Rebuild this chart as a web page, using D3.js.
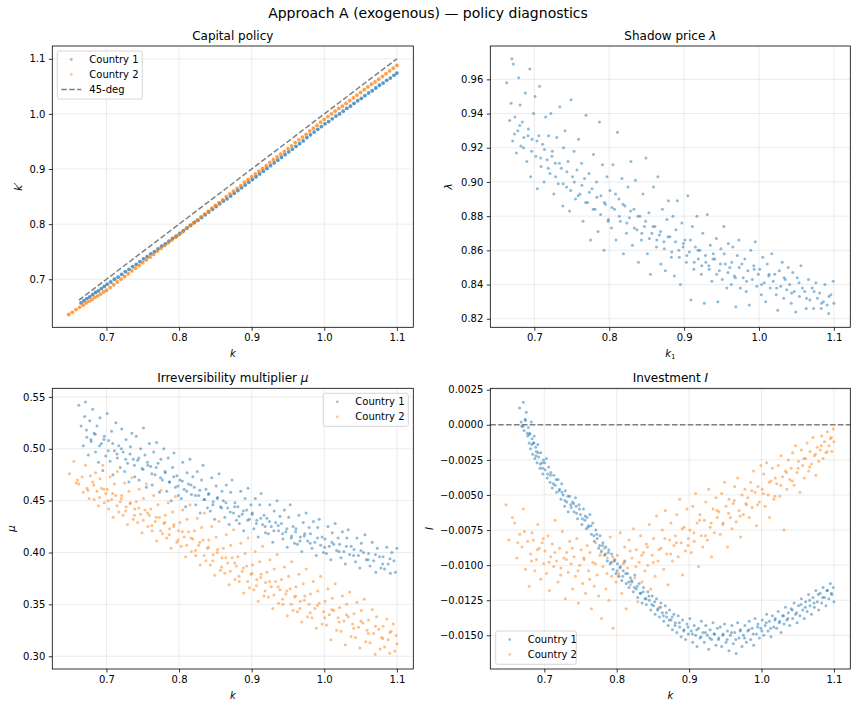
<!DOCTYPE html>
<html>
<head>
<meta charset="utf-8">
<script src="https://cdn.jsdelivr.net/npm/d3@7"></script>
<style>
  body { margin: 0; background: #fff; }
  svg { font-family: "DejaVu Sans", sans-serif; }
</style>
</head>
<body>
<div id="chart"></div>
<script>
// ---- data: [k, value] ----
const capital1 = [[0.665,0.657],[0.669,0.661],[0.673,0.665],[0.677,0.668],[0.681,0.672],[0.685,0.676],[0.689,0.679],[0.693,0.683],[0.697,0.687],[0.701,0.691],[0.706,0.695],[0.711,0.700],[0.716,0.704],[0.721,0.709],[0.726,0.714],[0.731,0.718],[0.736,0.723],[0.741,0.727],[0.746,0.732],[0.751,0.737],[0.756,0.741],[0.761,0.746],[0.766,0.750],[0.771,0.755],[0.776,0.760],[0.781,0.764],[0.786,0.769],[0.791,0.774],[0.796,0.778],[0.801,0.783],[0.806,0.788],[0.811,0.793],[0.816,0.798],[0.821,0.803],[0.826,0.807],[0.831,0.812],[0.836,0.817],[0.841,0.822],[0.846,0.827],[0.851,0.832],[0.856,0.837],[0.861,0.842],[0.866,0.846],[0.871,0.851],[0.876,0.856],[0.881,0.861],[0.886,0.866],[0.891,0.871],[0.896,0.876],[0.901,0.881],[0.906,0.886],[0.911,0.891],[0.916,0.896],[0.921,0.901],[0.926,0.906],[0.931,0.911],[0.936,0.916],[0.941,0.921],[0.946,0.926],[0.951,0.931],[0.956,0.936],[0.961,0.941],[0.966,0.946],[0.971,0.951],[0.976,0.957],[0.981,0.962],[0.986,0.967],[0.991,0.972],[0.996,0.977],[1.001,0.982],[1.006,0.986],[1.011,0.991],[1.016,0.996],[1.021,1.000],[1.026,1.005],[1.031,1.010],[1.036,1.014],[1.041,1.019],[1.046,1.024],[1.051,1.028],[1.056,1.033],[1.061,1.038],[1.066,1.042],[1.071,1.047],[1.076,1.052],[1.081,1.056],[1.086,1.061],[1.091,1.065],[1.096,1.070],[1.100,1.074]];

const capital2 = [[0.648,0.636],[0.653,0.640],[0.658,0.645],[0.663,0.649],[0.668,0.653],[0.672,0.657],[0.676,0.660],[0.680,0.663],[0.684,0.667],[0.688,0.670],[0.692,0.673],[0.696,0.677],[0.700,0.680],[0.705,0.685],[0.710,0.690],[0.715,0.695],[0.720,0.700],[0.725,0.705],[0.730,0.710],[0.735,0.715],[0.740,0.720],[0.745,0.725],[0.750,0.730],[0.755,0.735],[0.760,0.740],[0.765,0.745],[0.770,0.751],[0.775,0.756],[0.780,0.761],[0.785,0.766],[0.790,0.771],[0.795,0.776],[0.800,0.781],[0.805,0.786],[0.810,0.792],[0.815,0.797],[0.820,0.802],[0.825,0.807],[0.830,0.813],[0.835,0.818],[0.840,0.823],[0.845,0.829],[0.850,0.834],[0.855,0.839],[0.860,0.844],[0.865,0.850],[0.870,0.855],[0.875,0.860],[0.880,0.865],[0.885,0.870],[0.890,0.876],[0.895,0.881],[0.900,0.886],[0.905,0.891],[0.910,0.896],[0.915,0.901],[0.920,0.906],[0.925,0.912],[0.930,0.917],[0.935,0.922],[0.940,0.927],[0.945,0.932],[0.950,0.937],[0.955,0.942],[0.960,0.948],[0.965,0.953],[0.970,0.958],[0.975,0.963],[0.980,0.969],[0.985,0.974],[0.990,0.979],[0.995,0.985],[1.000,0.990],[1.005,0.995],[1.010,1.000],[1.015,1.005],[1.020,1.010],[1.025,1.014],[1.030,1.019],[1.035,1.024],[1.040,1.029],[1.045,1.034],[1.050,1.039],[1.055,1.044],[1.060,1.049],[1.065,1.054],[1.070,1.058],[1.075,1.063],[1.080,1.068],[1.085,1.073],[1.090,1.078],[1.095,1.083],[1.100,1.088]];

const diag45 = [0.662, 1.100];

const lambda1 = [[0.663,0.958],[0.667,0.936],[0.669,0.946],[0.670,0.972],[0.671,0.924],[0.672,0.969],[0.674,0.938],[0.676,0.917],[0.678,0.930],[0.679,0.961],
[0.681,0.945],[0.682,0.921],[0.684,0.935],[0.686,0.926],[0.688,0.952],[0.690,0.912],[0.692,0.931],[0.694,0.966],[0.695,0.903],[0.697,0.925],[0.699,0.940],
[0.701,0.950],[0.702,0.915],[0.704,0.896],[0.706,0.927],[0.707,0.956],[0.709,0.909],[0.711,0.922],[0.713,0.900],[0.715,0.938],[0.717,0.913],[0.719,0.927],
[0.721,0.905],[0.722,0.940],[0.724,0.918],[0.726,0.893],[0.728,0.911],[0.730,0.926],[0.732,0.899],[0.734,0.944],[0.736,0.908],[0.738,0.886],[0.739,0.920],
[0.741,0.930],[0.743,0.897],[0.745,0.912],[0.747,0.883],[0.749,0.948],[0.751,0.903],[0.753,0.918],[0.755,0.890],[0.757,0.907],[0.759,0.925],
[0.761,0.893],[0.763,0.911],[0.765,0.877],[0.767,0.902],[0.769,0.939],[0.771,0.888],[0.773,0.905],[0.775,0.866],[0.777,0.896],[0.779,0.916],
[0.781,0.884],[0.783,0.900],[0.785,0.871],[0.787,0.935],[0.789,0.892],[0.791,0.910],[0.793,0.860],[0.795,0.887],[0.797,0.903],[0.799,0.878],
[0.801,0.895],[0.803,0.873],[0.805,0.910],[0.807,0.884],[0.809,0.866],[0.811,0.929],[0.813,0.890],[0.815,0.877],[0.817,0.902],[0.819,0.858],
[0.821,0.886],[0.823,0.870],[0.825,0.897],[0.827,0.879],[0.829,0.912],[0.831,0.863],[0.833,0.884],[0.835,0.901],[0.837,0.872],[0.839,0.853],
[0.841,0.880],[0.843,0.866],[0.845,0.893],[0.847,0.874],[0.849,0.914],[0.851,0.858],[0.853,0.882],[0.855,0.846],[0.857,0.870],[0.859,0.897],
[0.861,0.874],[0.863,0.862],[0.865,0.903],[0.867,0.869],[0.869,0.852],[0.871,0.884],[0.873,0.865],[0.875,0.848],[0.877,0.878],[0.879,0.889],
[0.881,0.868],[0.883,0.856],[0.885,0.880],[0.887,0.845],[0.889,0.872],[0.891,0.889],[0.893,0.860],[0.895,0.840],[0.897,0.876],[0.899,0.864],
[0.901,0.866],[0.903,0.853],[0.905,0.892],[0.907,0.859],[0.909,0.831],[0.911,0.874],[0.913,0.849],[0.915,0.862],[0.917,0.880],[0.919,0.855],
[0.921,0.860],[0.923,0.846],[0.925,0.870],[0.927,0.829],[0.929,0.853],[0.931,0.881],[0.933,0.851],[0.935,0.863],[0.937,0.842],[0.939,0.858],
[0.941,0.855],[0.943,0.867],[0.945,0.830],[0.947,0.848],[0.949,0.861],[0.951,0.843],[0.953,0.874],[0.955,0.852],[0.957,0.838],[0.959,0.864],
[0.961,0.850],[0.963,0.840],[0.965,0.862],[0.967,0.845],[0.969,0.827],[0.971,0.857],[0.973,0.866],[0.975,0.838],[0.977,0.852],[0.979,0.844],
[0.981,0.855],[0.983,0.836],[0.985,0.848],[0.987,0.828],[0.989,0.860],[0.991,0.843],[0.993,0.851],[0.995,0.865],[0.997,0.839],[0.999,0.846],
[1.001,0.849],[1.003,0.834],[1.005,0.856],[1.007,0.841],[1.009,0.830],[1.011,0.852],[1.013,0.845],[1.015,0.838],[1.017,0.858],[1.019,0.842],
[1.021,0.846],[1.023,0.834],[1.025,0.825],[1.027,0.848],[1.029,0.839],[1.031,0.853],[1.033,0.832],[1.035,0.843],[1.037,0.837],[1.039,0.850],
[1.041,0.840],[1.043,0.829],[1.045,0.847],[1.047,0.836],[1.049,0.824],[1.051,0.844],[1.054,0.833],[1.056,0.851],[1.058,0.838],
[1.061,0.836],[1.063,0.826],[1.066,0.843],[1.068,0.831],[1.071,0.838],[1.073,0.826],[1.076,0.841],[1.078,0.832],
[1.081,0.835],[1.083,0.826],[1.086,0.830],[1.088,0.840],[1.091,0.828],[1.093,0.823],[1.096,0.834],[1.099,0.842],[1.100,0.829],
[0.6735,0.928],[0.6805,0.933],[0.6855,0.920],[0.6915,0.927],[0.6965,0.918],[0.7035,0.924],[0.7085,0.914],[0.7135,0.919],[0.7185,0.908],[0.7235,0.915],[0.7285,0.903],[0.7335,0.911],[0.7385,0.899],[0.7435,0.906],[0.7485,0.895],[0.7535,0.900],[0.7585,0.892],[0.7635,0.898],[0.7685,0.888],[0.7735,0.894],[0.7785,0.884],[0.7835,0.891],[0.7885,0.881],[0.7935,0.888],[0.7985,0.877],[0.8035,0.885],[0.8085,0.893],[0.8135,0.880],[0.8185,0.887],[0.8235,0.876],[0.8285,0.883],[0.8335,0.873],[0.8385,0.880],[0.8435,0.870],[0.8485,0.877],[0.8535,0.867],[0.8585,0.874],[0.8635,0.866],[0.8685,0.871],[0.8735,0.861],[0.8785,0.868],[0.8835,0.859],[0.8885,0.865],[0.8935,0.856],[0.8985,0.862],[0.9035,0.857],[0.9085,0.866],[0.9135,0.853],[0.9185,0.860],[0.9235,0.851],[0.9285,0.857],[0.9335,0.849],[0.9385,0.855],[0.9435,0.846],[0.9485,0.852],[0.9535,0.858],[0.9585,0.847],[0.9635,0.853],[0.9685,0.844],[0.9735,0.850],[0.9835,0.842],[0.9935,0.849],[1.0035,0.840],[1.0135,0.846],[1.0235,0.838],[1.0335,0.844],[1.0435,0.835],[1.0535,0.841],[1.0635,0.832],[1.0735,0.836],[1.0835,0.829],[1.0935,0.833]];

const mu1 = [[0.662,0.542],[0.665,0.522],[0.668,0.503],[0.670,0.531],[0.671,0.545],[0.673,0.511],[0.675,0.494],[0.677,0.527],[0.679,0.507],
[0.681,0.538],[0.683,0.515],[0.685,0.497],[0.687,0.522],[0.689,0.487],[0.691,0.530],[0.693,0.505],[0.695,0.479],[0.697,0.512],[0.699,0.493],
[0.701,0.534],[0.703,0.508],[0.705,0.488],[0.707,0.517],[0.709,0.475],[0.711,0.498],[0.713,0.525],[0.715,0.491],[0.717,0.503],[0.719,0.482],
[0.721,0.519],[0.723,0.497],[0.725,0.478],[0.727,0.509],[0.729,0.486],[0.731,0.468],[0.733,0.502],[0.735,0.515],[0.737,0.490],[0.739,0.473],
[0.741,0.512],[0.743,0.489],[0.745,0.470],[0.747,0.500],[0.749,0.481],[0.751,0.520],[0.753,0.494],[0.755,0.463],[0.757,0.484],[0.759,0.505],
[0.761,0.483],[0.763,0.465],[0.765,0.497],[0.767,0.475],[0.769,0.506],[0.771,0.486],[0.773,0.458],[0.775,0.490],[0.777,0.470],[0.779,0.500],
[0.781,0.477],[0.783,0.459],[0.785,0.491],[0.787,0.468],[0.789,0.450],[0.791,0.482],[0.793,0.496],[0.795,0.463],[0.797,0.474],[0.799,0.455],
[0.801,0.470],[0.803,0.452],[0.805,0.487],[0.807,0.461],[0.809,0.444],[0.811,0.477],[0.813,0.466],[0.815,0.490],[0.817,0.456],[0.819,0.473],
[0.821,0.463],[0.823,0.446],[0.825,0.478],[0.827,0.455],[0.829,0.438],[0.831,0.470],[0.833,0.484],[0.835,0.451],[0.837,0.461],[0.839,0.443],
[0.841,0.457],[0.843,0.440],[0.845,0.472],[0.847,0.449],[0.849,0.432],[0.851,0.464],[0.853,0.453],[0.855,0.476],[0.857,0.444],[0.859,0.459],
[0.861,0.450],[0.863,0.434],[0.865,0.465],[0.867,0.443],[0.869,0.427],[0.871,0.458],[0.873,0.470],[0.875,0.438],[0.877,0.448],[0.879,0.431],
[0.881,0.444],[0.883,0.428],[0.885,0.459],[0.887,0.437],[0.889,0.421],[0.891,0.452],[0.893,0.441],[0.895,0.462],[0.897,0.432],[0.899,0.446],
[0.901,0.438],[0.903,0.423],[0.905,0.452],[0.907,0.431],[0.909,0.415],[0.911,0.446],[0.913,0.457],[0.915,0.427],[0.917,0.436],[0.919,0.419],
[0.921,0.433],[0.923,0.418],[0.925,0.446],[0.927,0.425],[0.929,0.410],[0.931,0.440],[0.933,0.429],[0.935,0.450],[0.937,0.421],[0.939,0.435],
[0.941,0.428],[0.943,0.413],[0.945,0.441],[0.947,0.420],[0.949,0.405],[0.951,0.434],[0.953,0.446],[0.955,0.416],[0.957,0.425],[0.959,0.409],
[0.961,0.423],[0.963,0.408],[0.965,0.436],[0.967,0.415],[0.969,0.401],[0.971,0.429],[0.973,0.418],[0.975,0.438],[0.977,0.411],[0.979,0.424],
[0.981,0.418],[0.983,0.404],[0.985,0.430],[0.987,0.410],[0.989,0.397],[0.991,0.424],[0.993,0.432],[0.995,0.407],[0.997,0.415],[0.999,0.400],
[1.001,0.413],[1.003,0.399],[1.005,0.425],[1.007,0.406],[1.009,0.393],[1.011,0.419],[1.013,0.408],[1.015,0.428],[1.017,0.402],[1.019,0.414],
[1.021,0.408],[1.023,0.395],[1.025,0.420],[1.027,0.401],[1.029,0.389],[1.031,0.414],[1.033,0.422],[1.035,0.398],[1.037,0.406],
[1.041,0.403],[1.043,0.391],[1.045,0.414],[1.047,0.397],[1.049,0.385],[1.051,0.409],[1.054,0.400],[1.056,0.417],[1.058,0.393],
[1.061,0.399],[1.063,0.387],[1.066,0.410],[1.068,0.392],[1.071,0.381],[1.073,0.404],[1.076,0.396],[1.078,0.385],
[1.081,0.396],[1.083,0.384],[1.086,0.405],[1.088,0.389],[1.091,0.380],[1.093,0.400],[1.096,0.392],[1.098,0.381],[1.100,0.404],
[0.6725,0.518],[0.6785,0.509],[0.6845,0.514],[0.6905,0.503],[0.6965,0.509],[0.7025,0.498],[0.7085,0.505],[0.7145,0.495],[0.7205,0.500],[0.7265,0.490],[0.7325,0.495],[0.7385,0.484],[0.7445,0.491],[0.7505,0.480],[0.7565,0.487],[0.7625,0.476],[0.7685,0.482],[0.7745,0.472],[0.7805,0.478],[0.7865,0.468],[0.7925,0.473],[0.7985,0.464],[0.8045,0.469],[0.8105,0.459],[0.8165,0.465],[0.8225,0.455],[0.8285,0.460],[0.8345,0.451],[0.8405,0.456],[0.8465,0.446],[0.8525,0.452],[0.8585,0.443],[0.8645,0.448],[0.8705,0.439],[0.8765,0.444],[0.8825,0.435],[0.8885,0.440],[0.8945,0.431],[0.9005,0.437],[0.9065,0.428],[0.9125,0.433],[0.9185,0.425],[0.9245,0.430],[0.9305,0.421],[0.9365,0.426],[0.9425,0.418],[0.9485,0.423],[0.9545,0.414],[0.9605,0.420],[0.9665,0.411],[0.9725,0.416],[0.9805,0.409],[0.9905,0.414],[1.0005,0.405],[1.0105,0.410],[1.0205,0.401],[1.0305,0.406],[1.0405,0.397],[1.0505,0.402],[1.0605,0.393],[1.0705,0.398],[1.0805,0.389],[1.0905,0.394]];

const mu2 = [[0.649,0.476],[0.655,0.488],[0.660,0.470],[0.662,0.466],[0.668,0.458],[0.671,0.484],[0.673,0.462],[0.676,0.452],[0.678,0.474],
[0.681,0.468],[0.683,0.451],[0.685,0.477],[0.687,0.459],[0.689,0.445],[0.691,0.471],[0.693,0.462],[0.695,0.484],[0.697,0.448],[0.699,0.457],
[0.701,0.461],[0.703,0.442],[0.705,0.473],[0.707,0.451],[0.709,0.434],[0.711,0.466],[0.713,0.455],[0.715,0.478],[0.717,0.439],[0.719,0.449],
[0.721,0.455],[0.723,0.436],[0.725,0.467],[0.727,0.444],[0.729,0.427],[0.731,0.459],[0.733,0.448],[0.735,0.472],[0.737,0.432],[0.739,0.442],
[0.741,0.449],[0.743,0.429],[0.745,0.461],[0.747,0.437],[0.749,0.419],[0.751,0.452],[0.753,0.441],[0.755,0.466],[0.757,0.425],[0.759,0.436],
[0.761,0.442],[0.763,0.421],[0.765,0.455],[0.767,0.430],[0.769,0.411],[0.771,0.446],[0.773,0.434],[0.775,0.460],[0.777,0.418],[0.779,0.428],
[0.781,0.436],[0.783,0.414],[0.785,0.448],[0.787,0.423],[0.789,0.404],[0.791,0.439],[0.793,0.427],[0.795,0.454],[0.797,0.410],[0.799,0.421],
[0.801,0.429],[0.803,0.406],[0.805,0.441],[0.807,0.415],[0.809,0.396],[0.811,0.432],[0.813,0.420],[0.815,0.446],[0.817,0.401],[0.819,0.413],
[0.821,0.421],[0.823,0.397],[0.825,0.433],[0.827,0.407],[0.829,0.388],[0.831,0.424],[0.833,0.412],[0.835,0.438],[0.837,0.392],[0.839,0.404],
[0.841,0.412],[0.843,0.388],[0.845,0.425],[0.847,0.398],[0.849,0.378],[0.851,0.415],[0.853,0.403],[0.855,0.430],[0.857,0.383],[0.859,0.395],
[0.861,0.404],[0.863,0.380],[0.865,0.417],[0.867,0.390],[0.869,0.369],[0.871,0.407],[0.873,0.395],[0.875,0.422],[0.877,0.374],[0.879,0.387],
[0.881,0.396],[0.883,0.372],[0.885,0.409],[0.887,0.382],[0.889,0.361],[0.891,0.399],[0.893,0.387],[0.895,0.414],[0.897,0.366],[0.899,0.379],
[0.901,0.388],[0.903,0.364],[0.905,0.401],[0.907,0.374],[0.909,0.353],[0.911,0.391],[0.913,0.379],[0.915,0.406],[0.917,0.358],[0.919,0.371],
[0.921,0.381],[0.923,0.357],[0.925,0.393],[0.927,0.367],[0.929,0.346],[0.931,0.384],[0.933,0.372],[0.935,0.398],[0.937,0.351],[0.939,0.364],
[0.941,0.374],[0.943,0.350],[0.945,0.386],[0.947,0.360],[0.949,0.339],[0.951,0.377],[0.953,0.365],[0.955,0.391],[0.957,0.344],[0.959,0.357],
[0.961,0.367],[0.963,0.343],[0.965,0.379],[0.967,0.353],[0.969,0.333],[0.971,0.370],[0.973,0.358],[0.975,0.384],[0.977,0.338],[0.979,0.350],
[0.981,0.360],[0.983,0.337],[0.985,0.372],[0.987,0.346],[0.989,0.327],[0.991,0.363],[0.993,0.351],[0.995,0.377],[0.997,0.331],[0.999,0.343],
[1.001,0.353],[1.003,0.330],[1.005,0.365],[1.007,0.340],[1.009,0.316],[1.011,0.356],[1.013,0.344],[1.015,0.370],[1.017,0.325],[1.019,0.337],
[1.021,0.347],[1.023,0.324],[1.025,0.358],[1.027,0.334],[1.029,0.311],[1.031,0.350],[1.033,0.338],[1.035,0.362],[1.037,0.319],[1.039,0.331],
[1.041,0.341],[1.043,0.318],[1.045,0.352],[1.047,0.328],[1.049,0.308],[1.051,0.344],[1.053,0.332],[1.055,0.355],[1.057,0.314],[1.059,0.325],
[1.061,0.335],[1.063,0.313],[1.066,0.345],[1.068,0.322],[1.070,0.302],[1.072,0.338],[1.075,0.326],[1.077,0.307],[1.079,0.318],
[1.081,0.329],[1.083,0.309],[1.086,0.336],[1.088,0.316],[1.090,0.303],[1.092,0.324],[1.095,0.331],[1.097,0.305],[1.099,0.320],[1.100,0.312],
[0.6585,0.467],[0.6665,0.473],[0.6745,0.460],[0.6825,0.465],[0.6905,0.453],[0.6965,0.461],[0.7025,0.450],[0.7085,0.457],[0.7145,0.445],[0.7205,0.452],[0.7265,0.440],[0.7325,0.447],[0.7385,0.436],[0.7445,0.443],[0.7505,0.431],[0.7565,0.438],[0.7625,0.426],[0.7685,0.434],[0.7745,0.421],[0.7805,0.429],[0.7865,0.417],[0.7925,0.425],[0.7985,0.412],[0.8045,0.420],[0.8105,0.407],[0.8165,0.414],[0.8225,0.402],[0.8285,0.410],[0.8345,0.397],[0.8405,0.405],[0.8465,0.392],[0.8525,0.400],[0.8585,0.386],[0.8645,0.395],[0.8705,0.382],[0.8765,0.390],[0.8825,0.377],[0.8885,0.385],[0.8945,0.372],[0.9005,0.380],[0.9065,0.368],[0.9125,0.376],[0.9185,0.363],[0.9245,0.372],[0.9305,0.359],[0.9365,0.367],[0.9425,0.355],[0.9485,0.363],[0.9545,0.350],[0.9605,0.358],[0.9665,0.346],[0.9725,0.354],[0.9805,0.342],[0.9905,0.349],[1.0005,0.337],[1.0105,0.345],[1.0205,0.333],[1.0305,0.340],[1.0405,0.327],[1.0505,0.334],[1.0605,0.322],[1.0705,0.329],[1.0805,0.317],[1.0905,0.323]];

const invest1 = [[0.666,0.0012],[0.668,0.0002],[0.669,-0.0001],[0.671,0.0016],[0.672,-0.0004],[0.674,0.0003],[0.675,0.0009],[0.677,-0.0008],[0.678,-0.0002],[0.679,-0.0013],
[0.680,-0.0006],[0.681,-0.0017],[0.682,0.0002],[0.683,-0.0010],[0.684,-0.0021],[0.685,-0.0013],[0.686,-0.0008],[0.687,-0.0024],[0.688,-0.0016],[0.689,-0.0019],
[0.690,-0.0027],[0.691,-0.0014],[0.692,-0.0023],[0.694,-0.0031],[0.695,-0.0020],[0.697,-0.0027],[0.698,-0.0035],[0.699,-0.0025],
[0.701,-0.0032],[0.703,-0.0024],[0.704,-0.0038],[0.706,-0.0030],[0.708,-0.0041],[0.709,-0.0034],[0.711,-0.0045],[0.713,-0.0036],[0.715,-0.0043],[0.717,-0.0048],[0.719,-0.0039],
[0.721,-0.0046],[0.723,-0.0053],[0.724,-0.0042],[0.726,-0.0050],[0.728,-0.0058],[0.729,-0.0047],[0.731,-0.0055],[0.733,-0.0062],[0.735,-0.0051],[0.737,-0.0059],[0.739,-0.0055],
[0.741,-0.0062],[0.743,-0.0052],[0.744,-0.0058],[0.746,-0.0067],[0.748,-0.0057],[0.750,-0.0064],[0.752,-0.0071],[0.754,-0.0060],[0.756,-0.0068],[0.758,-0.0074],[0.759,-0.0066],
[0.761,-0.0072],[0.763,-0.0064],[0.765,-0.0078],[0.767,-0.0070],[0.769,-0.0083],[0.771,-0.0075],[0.773,-0.0081],[0.775,-0.0088],[0.777,-0.0079],[0.779,-0.0090],
[0.781,-0.0084],[0.783,-0.0093],[0.785,-0.0087],[0.787,-0.0097],[0.789,-0.0089],[0.791,-0.0099],[0.793,-0.0092],[0.795,-0.0103],[0.797,-0.0096],[0.799,-0.0106],
[0.801,-0.0099],[0.803,-0.0108],[0.805,-0.0101],[0.807,-0.0111],[0.809,-0.0104],[0.811,-0.0097],[0.813,-0.0113],[0.815,-0.0106],[0.817,-0.0116],[0.819,-0.0109],
[0.821,-0.0112],[0.823,-0.0119],[0.825,-0.0107],[0.827,-0.0117],[0.829,-0.0123],[0.831,-0.0113],[0.833,-0.0120],[0.835,-0.0127],[0.837,-0.0116],[0.839,-0.0124],
[0.841,-0.0128],[0.843,-0.0119],[0.845,-0.0125],[0.847,-0.0132],[0.849,-0.0122],[0.851,-0.0129],[0.853,-0.0135],[0.855,-0.0124],[0.857,-0.0131],[0.859,-0.0137],
[0.861,-0.0127],[0.863,-0.0134],[0.865,-0.0140],[0.867,-0.0129],[0.869,-0.0137],[0.871,-0.0143],[0.873,-0.0132],[0.875,-0.0139],[0.877,-0.0146],[0.879,-0.0135],
[0.881,-0.0141],[0.883,-0.0148],[0.885,-0.0136],[0.887,-0.0144],[0.889,-0.0151],[0.891,-0.0139],[0.893,-0.0146],[0.895,-0.0153],[0.897,-0.0142],[0.899,-0.0149],
[0.901,-0.0138],[0.903,-0.0147],[0.905,-0.0155],[0.907,-0.0143],[0.909,-0.0150],[0.911,-0.0158],[0.913,-0.0145],[0.915,-0.0152],[0.917,-0.0140],[0.919,-0.0148],
[0.921,-0.0155],[0.923,-0.0143],[0.925,-0.0150],[0.927,-0.0160],[0.929,-0.0146],[0.931,-0.0153],[0.933,-0.0141],[0.935,-0.0149],[0.937,-0.0157],[0.939,-0.0145],
[0.941,-0.0152],[0.943,-0.0144],[0.945,-0.0158],[0.947,-0.0149],[0.949,-0.0142],[0.951,-0.0155],[0.953,-0.0147],[0.955,-0.0161],[0.957,-0.0150],[0.959,-0.0143],
[0.961,-0.0156],[0.963,-0.0148],[0.965,-0.0163],[0.967,-0.0141],[0.969,-0.0152],[0.971,-0.0146],[0.973,-0.0158],[0.975,-0.0150],[0.977,-0.0143],[0.979,-0.0155],
[0.981,-0.0147],[0.983,-0.0140],[0.985,-0.0153],[0.987,-0.0145],[0.989,-0.0157],[0.991,-0.0138],[0.993,-0.0149],[0.995,-0.0142],[0.997,-0.0152],[0.999,-0.0145],
[1.001,-0.0139],[1.003,-0.0150],[1.005,-0.0143],[1.007,-0.0135],[1.009,-0.0147],[1.011,-0.0140],[1.013,-0.0151],[1.015,-0.0136],[1.017,-0.0144],[1.019,-0.0138],
[1.021,-0.0145],[1.023,-0.0133],[1.025,-0.0140],[1.027,-0.0148],[1.029,-0.0136],[1.031,-0.0142],[1.033,-0.0130],[1.035,-0.0139],[1.037,-0.0134],[1.039,-0.0143],
[1.041,-0.0131],[1.043,-0.0138],[1.045,-0.0127],[1.047,-0.0135],[1.049,-0.0141],[1.051,-0.0129],[1.053,-0.0136],[1.055,-0.0124],[1.057,-0.0132],[1.059,-0.0138],
[1.061,-0.0126],[1.063,-0.0133],[1.065,-0.0121],[1.067,-0.0129],[1.069,-0.0135],[1.071,-0.0123],[1.073,-0.0130],[1.075,-0.0118],[1.077,-0.0126],[1.079,-0.0132],
[1.081,-0.0120],[1.083,-0.0127],[1.085,-0.0116],[1.087,-0.0123],[1.089,-0.0129],[1.091,-0.0118],[1.093,-0.0124],[1.095,-0.0113],[1.097,-0.0121],[1.099,-0.0116],[1.100,-0.0126],
[0.6705,-0.0001],[0.6735,0.0004],[0.6765,-0.0006],[0.6795,-0.0007],[0.6825,-0.0014],[0.6855,-0.0013],[0.6885,-0.0022],[0.6915,-0.0020],[0.6945,-0.0028],[0.6975,-0.0031],[0.7005,-0.0027],[0.7045,-0.0035],[0.7085,-0.0036],[0.7125,-0.0042],[0.7165,-0.0039],[0.7205,-0.0047],[0.7245,-0.0048],[0.7285,-0.0054],[0.7325,-0.0051],[0.7365,-0.0057],[0.7405,-0.0056],[0.7445,-0.0063],[0.7485,-0.0060],[0.7525,-0.0067],[0.7565,-0.0065],[0.7605,-0.0073],[0.7645,-0.0072],[0.7685,-0.0079],[0.7725,-0.0078],[0.7765,-0.0086],[0.7805,-0.0086],[0.7845,-0.0092],[0.7885,-0.0091],[0.7925,-0.0098],[0.7965,-0.0097],[0.8005,-0.0104],[0.8045,-0.0102],[0.8085,-0.0108],[0.8125,-0.0106],[0.8165,-0.0112],[0.8205,-0.0111],[0.8245,-0.0116],[0.8285,-0.0115],[0.8325,-0.0120],[0.8365,-0.0119],[0.8405,-0.0124],[0.8445,-0.0122],[0.8485,-0.0128],[0.8525,-0.0126],[0.8565,-0.0132],[0.8605,-0.0130],[0.8645,-0.0136],[0.8685,-0.0134],[0.8725,-0.0139],[0.8765,-0.0137],[0.8805,-0.0143],[0.8865,-0.0141],[0.8925,-0.0147],[0.8985,-0.0144],[0.9045,-0.0149],[0.9105,-0.0146],[0.9165,-0.0151],[0.9225,-0.0148],[0.9285,-0.0152],[0.9345,-0.0149],[0.9405,-0.0153],[0.9465,-0.0150],[0.9525,-0.0153],[0.9585,-0.0148],[0.9645,-0.0153],[0.9705,-0.0147],[0.9765,-0.0152],[0.9825,-0.0146],[0.9885,-0.0149],[0.9945,-0.0144],[1.0005,-0.0147],[1.0065,-0.0141],[1.0125,-0.0145],[1.0185,-0.0139],[1.0245,-0.0141],[1.0305,-0.0136],[1.0365,-0.0138],[1.0425,-0.0132],[1.0485,-0.0134],[1.0545,-0.0128],[1.0605,-0.0130],[1.0665,-0.0125],[1.0725,-0.0127],[1.0785,-0.0121],[1.0845,-0.0123],[1.0905,-0.0118],[1.0965,-0.0120]];

const invest2 = [[0.647,-0.0057],[0.651,-0.0082],[0.656,-0.0066],[0.659,-0.0070],[0.662,-0.0095],[0.666,-0.0078],[0.669,-0.0087],[0.671,-0.0060],[0.674,-0.0103],[0.677,-0.0083],[0.679,-0.0115],
[0.681,-0.0092],[0.683,-0.0077],[0.685,-0.0082],[0.687,-0.0104],[0.689,-0.0096],[0.691,-0.0071],[0.693,-0.0088],[0.695,-0.0110],[0.697,-0.0084],[0.699,-0.0099],
[0.701,-0.0090],[0.703,-0.0106],[0.705,-0.0079],[0.707,-0.0118],[0.709,-0.0094],[0.711,-0.0085],[0.713,-0.0101],[0.715,-0.0068],[0.717,-0.0097],[0.719,-0.0112],
[0.721,-0.0088],[0.723,-0.0102],[0.725,-0.0076],[0.727,-0.0095],[0.729,-0.0124],[0.731,-0.0091],[0.733,-0.0105],[0.735,-0.0083],[0.737,-0.0099],[0.739,-0.0117],
[0.741,-0.0094],[0.743,-0.0108],[0.745,-0.0081],[0.747,-0.0127],[0.749,-0.0100],[0.751,-0.0089],[0.753,-0.0113],[0.755,-0.0096],[0.757,-0.0120],[0.759,-0.0086],
[0.761,-0.0104],[0.763,-0.0091],[0.765,-0.0131],[0.767,-0.0098],[0.769,-0.0115],[0.771,-0.0084],[0.773,-0.0107],[0.775,-0.0122],[0.777,-0.0093],[0.779,-0.0138],
[0.781,-0.0101],[0.783,-0.0088],[0.785,-0.0117],[0.787,-0.0095],[0.789,-0.0125],[0.791,-0.0080],[0.793,-0.0108],[0.795,-0.0145],[0.797,-0.0097],[0.799,-0.0112],
[0.801,-0.0093],[0.803,-0.0106],[0.805,-0.0077],[0.807,-0.0120],[0.809,-0.0099],[0.811,-0.0087],[0.813,-0.0131],[0.815,-0.0102],[0.817,-0.0082],[0.819,-0.0114],
[0.821,-0.0095],[0.823,-0.0074],[0.825,-0.0109],[0.827,-0.0089],[0.829,-0.0126],[0.831,-0.0098],[0.833,-0.0079],[0.835,-0.0112],[0.837,-0.0091],[0.839,-0.0104],
[0.841,-0.0085],[0.843,-0.0100],[0.845,-0.0071],[0.847,-0.0117],[0.849,-0.0093],[0.851,-0.0081],[0.853,-0.0108],[0.855,-0.0065],[0.857,-0.0097],[0.859,-0.0130],
[0.861,-0.0088],[0.863,-0.0075],[0.865,-0.0103],[0.867,-0.0061],[0.869,-0.0092],[0.871,-0.0114],[0.873,-0.0082],[0.875,-0.0070],[0.877,-0.0097],[0.879,-0.0086],
[0.881,-0.0079],[0.883,-0.0064],[0.885,-0.0094],[0.887,-0.0053],[0.889,-0.0084],[0.891,-0.0107],[0.893,-0.0073],[0.895,-0.0090],[0.897,-0.0060],[0.899,-0.0081],
[0.901,-0.0075],[0.903,-0.0091],[0.905,-0.0058],[0.907,-0.0083],[0.909,-0.0049],[0.911,-0.0070],[0.913,-0.0101],[0.915,-0.0064],[0.917,-0.0079],[0.919,-0.0087],
[0.921,-0.0068],[0.923,-0.0055],[0.925,-0.0082],[0.927,-0.0046],[0.929,-0.0073],[0.931,-0.0094],[0.933,-0.0060],[0.935,-0.0077],[0.937,-0.0052],[0.939,-0.0066],
[0.941,-0.0062],[0.943,-0.0078],[0.945,-0.0049],[0.947,-0.0070],[0.949,-0.0041],[0.951,-0.0058],[0.953,-0.0087],[0.955,-0.0053],[0.957,-0.0066],[0.959,-0.0074],
[0.961,-0.0056],[0.963,-0.0044],[0.965,-0.0069],[0.967,-0.0038],[0.969,-0.0061],[0.971,-0.0080],[0.973,-0.0050],[0.975,-0.0064],[0.977,-0.0046],[0.979,-0.0057],
[0.981,-0.0052],[0.983,-0.0066],[0.985,-0.0041],[0.987,-0.0059],[0.989,-0.0033],[0.991,-0.0048],[0.993,-0.0072],[0.995,-0.0044],[0.997,-0.0055],[0.999,-0.0029],
[1.001,-0.0046],[1.003,-0.0035],[1.005,-0.0058],[1.007,-0.0027],[1.009,-0.0050],[1.011,-0.0066],[1.013,-0.0040],[1.015,-0.0031],[1.017,-0.0053],[1.019,-0.0038],
[1.021,-0.0042],[1.023,-0.0029],[1.025,-0.0051],[1.027,-0.0022],[1.029,-0.0037],[1.031,-0.0075],[1.033,-0.0033],[1.035,-0.0046],[1.037,-0.0025],[1.039,-0.0039],
[1.041,-0.0031],[1.043,-0.0020],[1.045,-0.0043],[1.047,-0.0015],[1.049,-0.0034],[1.051,-0.0026],[1.053,-0.0048],[1.055,-0.0018],[1.057,-0.0029],[1.059,-0.0038],
[1.061,-0.0024],[1.063,-0.0013],[1.065,-0.0033],[1.067,-0.0019],[1.069,-0.0028],[1.071,-0.0009],[1.073,-0.0022],[1.075,-0.0036],[1.077,-0.0016],[1.079,-0.0026],
[1.081,-0.0018],[1.083,-0.0008],[1.085,-0.0024],[1.087,-0.0012],[1.089,-0.0020],[1.091,-0.0005],[1.093,-0.0015],[1.095,-0.0010],[1.097,-0.0019],[1.099,-0.0003],[1.100,-0.0012],
[0.6635,-0.0084],[0.6725,-0.0076],[0.6825,-0.0097],[0.6905,-0.0089],[0.6985,-0.0081],[0.7065,-0.0098],[0.7145,-0.0091],[0.7225,-0.0107],[0.7305,-0.0096],[0.7385,-0.0088],[0.7465,-0.0104],[0.7545,-0.0095],[0.7625,-0.0110],[0.7705,-0.0099],[0.7785,-0.0091],[0.7865,-0.0106],[0.7945,-0.0094],[0.8025,-0.0108],[0.8105,-0.0098],[0.8185,-0.0090],[0.8265,-0.0101],[0.8345,-0.0093],[0.8425,-0.0087],[0.8505,-0.0098],[0.8585,-0.0089],[0.8665,-0.0081],[0.8745,-0.0092],[0.8825,-0.0084],[0.8905,-0.0074],[0.8985,-0.0086],[0.9065,-0.0077],[0.9145,-0.0068],[0.9225,-0.0079],[0.9305,-0.0070],[0.9385,-0.0061],[0.9465,-0.0071],[0.9545,-0.0063],[0.9625,-0.0054],[0.9705,-0.0065],[0.9785,-0.0056],[0.9865,-0.0047],[0.9945,-0.0057],[1.0025,-0.0049],[1.0105,-0.0041],[1.0185,-0.0051],[1.0265,-0.0043],[1.0345,-0.0034],[1.0425,-0.0040],[1.0505,-0.0031],[1.0585,-0.0024],[1.0665,-0.0030],[1.0745,-0.0021],[1.0825,-0.0015],[1.0905,-0.0019],[1.0965,-0.0009]];

// tick values
const kTicks = [0.7, 0.8, 0.9, 1.0, 1.1];
const capTicks = [0.7, 0.8, 0.9, 1.0, 1.1];
const lambdaTicks = [0.82, 0.84, 0.86, 0.88, 0.90, 0.92, 0.94, 0.96];
const muTicks = [0.30, 0.35, 0.40, 0.45, 0.50, 0.55];
const investTicks = [0.0025, 0.0, -0.0025, -0.005, -0.0075, -0.01, -0.0125, -0.015];
const seriesNames = ["Country 1", "Country 2"];

const BLUE = "#1f77b4", ORANGE = "#ff7f0e";

const svg = d3.select("#chart").append("svg")
    .attr("width", 856)
    .attr("height", 709);

svg.append("text")
    .attr("x", 428).attr("y", 18)
    .attr("text-anchor", "middle")
    .attr("font-size", "14px")
    .text("Approach A (exogenous) \u2014 policy diagnostics");

// write text made of plain / italic / subscript pieces
function rich(sel, parts) {
    parts.forEach(p => {
        const t = sel.append("tspan").text(p.t);
        if (p.i) t.attr("font-style", "italic");
        if (p.sub) t.attr("font-size", "7px").attr("dy", "2");
    });
}

function panel(o) {
    const [x0, y0, x1, y1] = o.box;
    const x = d3.scaleLinear().domain(o.xdom).range([x0, x1]);
    const y = d3.scaleLinear().domain(o.ydom).range([y1, y0]);
    const g = svg.append("g");
    const r = o.r || 1.5, op = o.op || 0.5;

    // grid
    g.append("g").selectAll("line").data(kTicks).join("line")
        .attr("x1", d => x(d)).attr("x2", d => x(d))
        .attr("y1", y0).attr("y2", y1)
        .attr("stroke", "#b0b0b0").attr("stroke-opacity", 0.3).attr("stroke-width", 0.8);
    g.append("g").selectAll("line").data(o.yticks).join("line")
        .attr("y1", d => y(d)).attr("y2", d => y(d))
        .attr("x1", x0).attr("x2", x1)
        .attr("stroke", "#b0b0b0").attr("stroke-opacity", 0.3).attr("stroke-width", 0.8);

    // points
    o.series.forEach(s => {
        g.append("g").selectAll("circle").data(s.data).join("circle")
            .attr("cx", d => x(d[0])).attr("cy", d => y(d[1]))
            .attr("r", r)
            .attr("fill", s.color)
            .attr("fill-opacity", op);
    });

    if (o.extra) o.extra(g, x, y);

    // axes
    const ax = g.append("g").attr("transform", `translate(0,${y1})`)
        .call(d3.axisBottom(x).tickValues(kTicks).tickFormat(d3.format(".1f")).tickSize(3.5).tickPadding(3.5));
    const ay = g.append("g").attr("transform", `translate(${x0},0)`)
        .call(d3.axisLeft(y).tickValues(o.yticks).tickFormat(d3.format(o.yfmt)).tickSize(3.5).tickPadding(3.5));
    [ax, ay].forEach(a => {
        a.select(".domain").remove();
        a.attr("font-family", null).attr("font-size", null);
        a.selectAll("text").attr("font-size", "10px").attr("fill", "#000");
        a.selectAll("line").attr("stroke", "#000").attr("stroke-width", 0.8);
    });

    g.append("rect")
        .attr("x", x0).attr("y", y0).attr("width", x1 - x0).attr("height", y1 - y0)
        .attr("fill", "none").attr("stroke", "#000").attr("stroke-width", 0.8);

    // titles and labels
    rich(g.append("text").attr("x", (x0 + x1) / 2).attr("y", y0 - 6)
        .attr("text-anchor", "middle").attr("font-size", "12px"), o.title);
    rich(g.append("text").attr("x", (x0 + x1) / 2).attr("y", y1 + 30)
        .attr("text-anchor", "middle").attr("font-size", "10px"), o.xlabel);
    rich(g.append("text")
        .attr("transform", `translate(${o.ylabelX},${(y0 + y1) / 2}) rotate(-90)`)
        .attr("text-anchor", "middle").attr("font-size", "10px"), o.ylabel);

    // legend
    if (o.legend) {
        const L = o.legend;
        const lg = g.append("g");
        lg.append("rect")
            .attr("x", L.x).attr("y", L.y).attr("width", L.w).attr("height", L.h)
            .attr("rx", 2).attr("fill", "#fff").attr("fill-opacity", 0.8)
            .attr("stroke", "#cccccc").attr("stroke-width", 0.8);
        L.items.forEach((it, i) => {
            const cy = L.y + 8.5 + i * 15;
            if (it.dash) {
                lg.append("line").attr("x1", L.x + 4).attr("x2", L.x + 24)
                    .attr("y1", cy).attr("y2", cy)
                    .attr("stroke", "#808080").attr("stroke-width", 1.5)
                    .attr("stroke-dasharray", "5.5,2.4");
            } else {
                lg.append("circle").attr("cx", L.x + 14).attr("cy", cy).attr("r", 1.4)
                    .attr("fill", it.color).attr("fill-opacity", 0.45);
            }
            lg.append("text").attr("x", L.x + 32).attr("y", cy + 3.6)
                .attr("font-size", "10px").text(it.name);
        });
    }
}

const kLabel = [{ t: "k", i: true }];
const dash = { stroke: "#808080", width: 1.5, dasharray: "5.5,2.4" };

panel({
    box: [52.3, 46, 413.3, 327.3],
    xdom: [0.6254, 1.1226], ydom: [0.6128, 1.1232],
    yticks: capTicks, yfmt: ".1f",
    r: 1.9, op: 0.75,
    title: [{ t: "Capital policy" }],
    xlabel: kLabel,
    ylabel: [{ t: "k\u2032", i: true }], ylabelX: 22,
    series: [{ data: capital1, color: BLUE }, { data: capital2, color: ORANGE }],
    extra: (g, x, y) => {
        g.append("line")
            .attr("x1", x(diag45[0])).attr("y1", y(diag45[0]))
            .attr("x2", x(diag45[1])).attr("y2", y(diag45[1]))
            .attr("stroke", dash.stroke).attr("stroke-width", dash.width)
            .attr("stroke-dasharray", dash.dasharray);
    },
    legend: {
        x: 57.3, y: 51, w: 85, h: 48,
        items: [{ name: seriesNames[0], color: BLUE }, { name: seriesNames[1], color: ORANGE }, { name: "45-deg", dash: true }]
    }
});

panel({
    box: [490.3, 46, 850.3, 327.3],
    xdom: [0.6412, 1.1219], ydom: [0.8150, 0.9795],
    yticks: lambdaTicks, yfmt: ".2f",
    r: 1.5, op: 0.5,
    title: [{ t: "Shadow price " }, { t: "\u03bb", i: true }],
    xlabel: [{ t: "k", i: true }, { t: "1", sub: true }],
    ylabel: [{ t: "\u03bb", i: true }], ylabelX: 452,
    series: [{ data: lambda1, color: BLUE }]
});

panel({
    box: [52.3, 388.3, 413.3, 669],
    xdom: [0.6254, 1.1226], ydom: [0.2877, 0.5583],
    yticks: muTicks, yfmt: ".2f",
    r: 1.5, op: 0.5,
    title: [{ t: "Irreversibility multiplier " }, { t: "\u03bc", i: true }],
    xlabel: kLabel,
    ylabel: [{ t: "\u03bc", i: true }], ylabelX: 15,
    series: [{ data: mu1, color: BLUE }, { data: mu2, color: ORANGE }],
    legend: {
        x: 323.3, y: 393.3, w: 85, h: 33,
        items: [{ name: seriesNames[0], color: BLUE }, { name: seriesNames[1], color: ORANGE }]
    }
});

panel({
    box: [490.3, 388.3, 850.3, 669],
    xdom: [0.6254, 1.1226], ydom: [-0.0174, 0.0026],
    yticks: investTicks, yfmt: ".4f",
    r: 1.5, op: 0.5,
    title: [{ t: "Investment " }, { t: "I", i: true }],
    xlabel: kLabel,
    ylabel: [{ t: "I", i: true }], ylabelX: 433,
    series: [{ data: invest1, color: BLUE }, { data: invest2, color: ORANGE }],
    extra: (g, x, y) => {
        g.append("line")
            .attr("x1", 490.3).attr("x2", 850.3)
            .attr("y1", y(0)).attr("y2", y(0))
            .attr("stroke", dash.stroke).attr("stroke-width", dash.width)
            .attr("stroke-dasharray", dash.dasharray);
    },
    legend: {
        x: 495.7, y: 631, w: 80.6, h: 33.3,
        items: [{ name: seriesNames[0], color: BLUE }, { name: seriesNames[1], color: ORANGE }]
    }
});
</script>
</body>
</html>
